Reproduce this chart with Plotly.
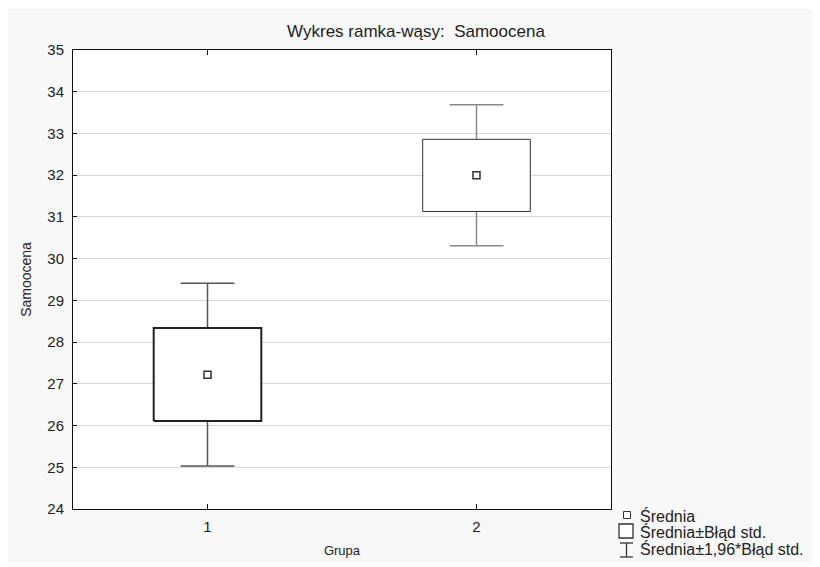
import plotly.graph_objects as go

# ---- data ----
groups = [1, 2]
group_labels = ["1", "2"]
means = [27.22, 32.00]
box_low = [26.11, 31.13]     # Średnia - Błąd std.
box_high = [28.34, 32.86]    # Średnia + Błąd std.
whisk_low = [25.03, 30.31]   # Średnia - 1,96*Błąd std.
whisk_high = [29.41, 33.69]  # Średnia + 1,96*Błąd std.
y_ticks = list(range(24, 36))

# ---- style ----
OFF = 8  # page body margin
W, H = 820 - OFF, 567 - OFF
ML, MR, MT, MB = 73 - OFF, 820 - 611, 50 - OFF, 567 - 509
BOX_HW = 0.2
CAP_HW = 0.1
box_line_w = [2, 1]
box_line_c = ["#222222", "#333333"]
whisk_c = ["#555555", "#888888"]
FONT = "Liberation Sans, Arial, sans-serif"

fig = go.Figure()

for i, g in enumerate(groups):
    # whiskers
    xs = [g, g, None, g, g, None,
          g - CAP_HW, g + CAP_HW, None, g - CAP_HW, g + CAP_HW]
    ys = [box_high[i], whisk_high[i], None, box_low[i], whisk_low[i], None,
          whisk_high[i], whisk_high[i], None, whisk_low[i], whisk_low[i]]
    fig.add_trace(go.Scatter(x=xs, y=ys, mode="lines",
                             line=dict(color=whisk_c[i], width=1.5),
                             hoverinfo="skip", showlegend=False))
    # box
    bx = [g - BOX_HW, g + BOX_HW, g + BOX_HW, g - BOX_HW, g - BOX_HW]
    by = [box_low[i], box_low[i], box_high[i], box_high[i], box_low[i]]
    fig.add_trace(go.Scatter(x=bx, y=by, mode="lines", fill="toself",
                             fillcolor="white",
                             line=dict(color=box_line_c[i], width=box_line_w[i]),
                             hoverinfo="skip", showlegend=False))

# means
fig.add_trace(go.Scatter(x=groups, y=means, mode="markers",
                         marker=dict(symbol="square", size=7, color="white",
                                     line=dict(color="#333333", width=1.5)),
                         showlegend=False))

pw = W - ML - MR
ph = H - MT - MB


def px(x):  # reference screen x -> paper
    return (x - OFF - ML) / pw


def py(y):  # reference screen y -> paper
    return (H - MB - (y - OFF)) / ph


shapes = [
    # light grey canvas and white plot area
    dict(type="rect", xref="paper", yref="paper", layer="below",
         x0=px(0), x1=px(815), y0=py(562), y1=py(9),
         fillcolor="#f8f8f8", line=dict(width=0)),
    dict(type="rect", xref="paper", yref="paper", layer="below",
         x0=0, x1=1, y0=0, y1=1, fillcolor="white", line=dict(width=0)),
    # legend icons
    dict(type="rect", xref="paper", yref="paper",
         x0=px(623.5), x1=px(630.5), y0=py(518.5), y1=py(511.5),
         fillcolor="white", line=dict(color="#333333", width=1)),
    dict(type="rect", xref="paper", yref="paper",
         x0=px(619), x1=px(633), y0=py(538), y1=py(524),
         fillcolor="white", line=dict(color="#333333", width=1.3)),
    dict(type="line", xref="paper", yref="paper",
         x0=px(620), x1=px(633), y0=py(543), y1=py(543),
         line=dict(color="#333333", width=1.3)),
    dict(type="line", xref="paper", yref="paper",
         x0=px(620), x1=px(633), y0=py(557), y1=py(557),
         line=dict(color="#333333", width=1.3)),
    dict(type="line", xref="paper", yref="paper",
         x0=px(626.5), x1=px(626.5), y0=py(543), y1=py(557),
         line=dict(color="#333333", width=1.3)),
]

legend_texts = ["Średnia", "Średnia±Błąd std.", "Średnia±1,96*Błąd std."]
legend_y = [516, 532, 549]
annotations = []
for t, yy in zip(legend_texts, legend_y):
    annotations.append(dict(text=t, xref="paper", yref="paper",
                            x=px(638), y=py(yy), xanchor="left", yanchor="middle",
                            showarrow=False,
                            font=dict(family=FONT, size=16, color="#222222")))

fig.update_layout(
    width=W, height=H,
    margin=dict(l=ML, r=MR, t=MT, b=MB, pad=0),
    paper_bgcolor="white",
    plot_bgcolor="white",
    shapes=shapes,
    annotations=annotations,
    showlegend=False,
    title=dict(text="Wykres ramka-wąsy:  Samoocena",
               x=(416 - OFF) / W, xanchor="center", y=1 - (31 - OFF) / H,
               yanchor="middle",
               font=dict(family=FONT, size=17, color="#222222")),
    font=dict(family=FONT, color="#222222"),
    xaxis=dict(range=[0.5, 2.5], tickvals=groups, ticktext=group_labels,
               showgrid=False, zeroline=False,
               showline=True, mirror="ticks", linecolor="#111111", linewidth=1,
               ticks="inside", ticklen=5, tickcolor="#111111",
               ticklabelstandoff=4,
               tickfont=dict(family=FONT, size=15, color="#222222"),
               title=dict(text="Grupa", standoff=11,
                          font=dict(family=FONT, size=13, color="#222222"))),
    yaxis=dict(range=[24, 35], tickvals=y_ticks,
               showgrid=True, gridcolor="#d9d9d9", gridwidth=1, zeroline=False,
               showline=True, mirror=True, linecolor="#111111", linewidth=1,
               ticks="inside", ticklen=4, tickcolor="#111111",
               ticklabelstandoff=5,
               tickfont=dict(family=FONT, size=15, color="#222222"),
               title=dict(text="Samoocena", standoff=12,
                          font=dict(family=FONT, size=14, color="#222222"))),
)

fig.write_html("out.html")
